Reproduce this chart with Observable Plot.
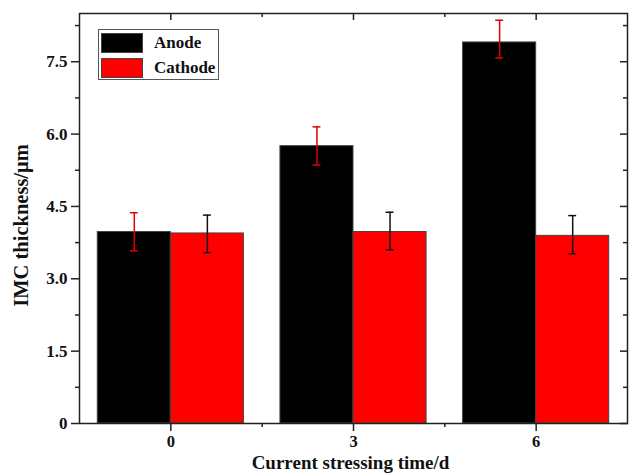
<!DOCTYPE html>
<html>
<head>
<meta charset="utf-8">
<script src="https://cdn.jsdelivr.net/npm/d3@7"></script>
<script src="https://cdn.jsdelivr.net/npm/@observablehq/plot@0.6"></script>
<style>
  body { margin: 0; background: #fff; }
  #wrap { position: relative; width: 629px; height: 475px; font-family: "Liberation Serif", "Times New Roman", serif; }
  #legend { position: absolute; left: 98px; top: 29px; width: 121px; height: 51px; box-sizing: border-box;
            border: 1px solid #555; background: #fff; }
  #legend .row { position: absolute; left: 2px; height: 20px; display: flex; align-items: center; }
  #legend .sw { width: 42px; height: 20px; box-sizing: border-box; border: 1px solid #444; }
  #legend .lb { margin-left: 11px; font-weight: bold; font-size: 17px; color: #111; line-height: 20px; }
</style>
</head>
<body>
<div id="wrap"></div>
<script>
// ---- data ----
const times = [0, 3, 6];
const series = ["Anode", "Cathode"];
const seriesColors = ["#000000", "#ff0000"];
const errorColors = ["#e00000", "#111111"];
const anode = [3.97, 5.75, 7.90];
const anodeLo = [3.58, 5.36, 7.58];
const anodeHi = [4.37, 6.15, 8.36];
const cathode = [3.94, 3.97, 3.89];
const cathodeLo = [3.54, 3.60, 3.52];
const cathodeHi = [4.32, 4.38, 4.31];
const yTicks = [0, 1.5, 3.0, 4.5, 6.0, 7.5];
const yTickLabels = ["0", "1.5", "3.0", "4.5", "6.0", "7.5"];
const yMinor = [0.75, 2.25, 3.75, 5.25, 6.75, 8.25];
const xTicks = [0, 3, 6];
const xTickLabels = ["0", "3", "6"];
const xMinor = [1.5, 4.5];
const xLabel = "Current stressing time/d";
const yLabel = "IMC thickness/\u03bcm";

// ---- table ----
const rows = times.flatMap((t, i) => [
  {t, series: "Anode", v: anode[i], lo: anodeLo[i], hi: anodeHi[i]},
  {t, series: "Cathode", v: cathode[i], lo: cathodeLo[i], hi: cathodeHi[i]}
]);

const barW = 1.2;   // bar width in x units
const capW = 0.065; // half cap width in x units
const bx1 = d => d.series === "Anode" ? d.t - barW : d.t;
const bx2 = d => d.series === "Anode" ? d.t : d.t + barW;
const bxc = d => d.series === "Anode" ? d.t - barW / 2 : d.t + barW / 2;

const W = 629, H = 475, mL = 79, mR = 2, mT = 13, mB = 52;
const fw = W - mL - mR, fh = H - mT - mB;
const axisStroke = "#222";

const errMarks = series.flatMap((s, k) => {
  const data = rows.filter(d => d.series === s);
  const c = errorColors[k];
  return [
    Plot.ruleX(data, {x: bxc, y1: "lo", y2: "hi", stroke: c, strokeWidth: 1.5}),
    Plot.ruleY(data, {y: "hi", x1: d => bxc(d) - capW, x2: d => bxc(d) + capW, stroke: c, strokeWidth: 1.5}),
    Plot.ruleY(data, {y: "lo", x1: d => bxc(d) - capW, x2: d => bxc(d) + capW, stroke: c, strokeWidth: 1.5})
  ];
});

const chart = Plot.plot({
  width: W, height: H,
  marginLeft: mL, marginRight: mR, marginTop: mT, marginBottom: mB,
  style: {fontFamily: "'Liberation Serif', 'Times New Roman', serif", fontWeight: "bold", fontSize: "16px", color: "#111", background: "#fff"},
  x: {type: "linear", domain: [-1.5, 7.5]},
  y: {domain: [0, 8.5]},
  color: {domain: series, range: seriesColors},
  marks: [
    Plot.rectY(rows, {x1: bx1, x2: bx2, y1: 0, y2: "v", fill: "series", stroke: "#444", strokeWidth: 1}),
    ...errMarks,
    // left axis (outside ticks)
    Plot.axisY(yTicks, {anchor: "left", tickSize: 8, tickPadding: 4, stroke: axisStroke, strokeWidth: 1.5,
      tickFormat: d => yTickLabels[yTicks.indexOf(d)], label: null, fontSize: 17}),
    Plot.axisY(yMinor, {anchor: "left", tickSize: 4, stroke: axisStroke, strokeWidth: 1.5, tickFormat: () => "", label: null}),
    // right axis (inside ticks)
    Plot.axisY(yTicks, {anchor: "left", dx: fw, tickSize: 7, stroke: axisStroke, strokeWidth: 1.5, tickFormat: () => "", label: null}),
    Plot.axisY(yMinor, {anchor: "left", dx: fw, tickSize: 4, stroke: axisStroke, strokeWidth: 1.5, tickFormat: () => "", label: null}),
    // bottom axis (outside ticks)
    Plot.axisX(xTicks, {anchor: "bottom", tickSize: 8, tickPadding: 4, stroke: axisStroke, strokeWidth: 1.5,
      tickFormat: d => xTickLabels[xTicks.indexOf(d)], label: null, fontSize: 16.5}),
    Plot.axisX(xMinor, {anchor: "bottom", tickSize: 4, stroke: axisStroke, strokeWidth: 1.5, tickFormat: () => "", label: null}),
    // top axis (inside ticks)
    Plot.axisX(xTicks, {anchor: "bottom", dy: -fh, tickSize: 7, stroke: axisStroke, strokeWidth: 1.5, tickFormat: () => "", label: null}),
    Plot.axisX(xMinor, {anchor: "bottom", dy: -fh, tickSize: 4, stroke: axisStroke, strokeWidth: 1.5, tickFormat: () => "", label: null}),
    Plot.frame({stroke: axisStroke, strokeWidth: 1.5}),
    // axis titles
    Plot.text([yLabel], {frameAnchor: "left", dx: -58, dy: 7, rotate: -90, textAnchor: "middle", text: d => d, fontSize: 20.5, fontWeight: "bold", fill: "#111"}),
    Plot.text([xLabel], {frameAnchor: "bottom", dx: -3, dy: 45, textAnchor: "middle", text: d => d, fontSize: 19, fontWeight: "bold", fill: "#111"})
  ]
});

const wrap = document.getElementById("wrap");
wrap.appendChild(chart);

// legend inside the plot area
const legend = document.createElement("div");
legend.id = "legend";
series.forEach((s, i) => {
  const row = document.createElement("div");
  row.className = "row";
  row.style.top = (i === 0 ? 3 : 28) + "px";
  const sw = document.createElement("div");
  sw.className = "sw";
  sw.style.background = seriesColors[i];
  const lb = document.createElement("span");
  lb.className = "lb";
  lb.textContent = s;
  row.appendChild(sw);
  row.appendChild(lb);
  legend.appendChild(row);
});
wrap.appendChild(legend);
</script>
</body>
</html>
